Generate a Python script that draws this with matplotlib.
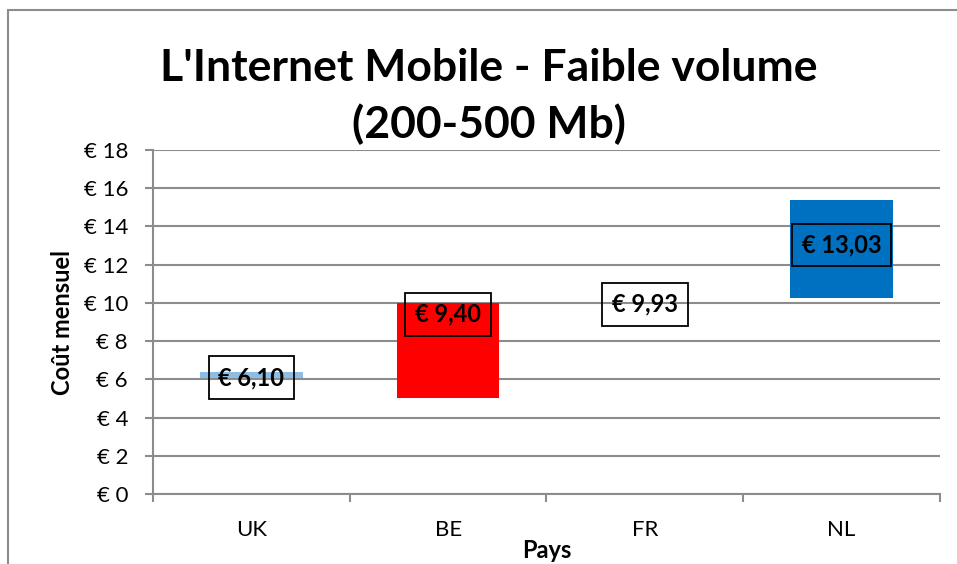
import matplotlib.pyplot as plt
from matplotlib.patches import Rectangle

plt.rcParams['font.family'] = ['Lato', 'DejaVu Sans']

# data
pays = ['UK', 'BE', 'FR', 'NL']
cout_min = [6.05, 5.00, 9.93, 10.25]
cout_max = [6.40, 10.00, 9.93, 15.40]
cout_moyen = [6.10, 9.40, 9.93, 13.03]
couleurs = ['#8DBDE4', '#FF0000', '#FFFFFF', '#0070C0']
yticks = list(range(0, 19, 2))

fig = plt.figure(figsize=(9.57, 5.64), dpi=100)
ax = fig.add_axes([0.16, 0.124, 0.822, 0.61])

x = list(range(len(pays)))
hauteurs = [hi - lo for lo, hi in zip(cout_min, cout_max)]
ax.bar(x, hauteurs, bottom=cout_min, width=0.52, color=couleurs, zorder=2)

for xi, v in zip(x, cout_moyen):
    txt = '€ ' + f'{v:.2f}'.replace('.', ',')
    ax.text(xi, v, txt, ha='center', va='center', fontsize=17, fontweight='bold',
            zorder=3, bbox=dict(boxstyle='square,pad=0.42', facecolor='none',
                                edgecolor='black', linewidth=1.3))

ax.set_xlim(-0.5, len(pays) - 0.5)
ax.set_ylim(0, 18)
ax.set_yticks(yticks)
ax.set_yticklabels([f'€ {t}' for t in yticks], fontsize=16)
ax.set_xticks(x)
ax.set_xticklabels(pays, fontsize=16)
ax.set_xticks([i - 0.5 for i in range(len(pays) + 1)], minor=True)
ax.tick_params(axis='x', which='major', length=0, pad=19)
ax.tick_params(axis='x', which='minor', length=6, color='#8c8c8c', width=1.5)
ax.tick_params(axis='y', length=6, color='#8c8c8c', width=1.5, pad=12)
ax.yaxis.grid(True, color='#8c8c8c', linewidth=1.5, zorder=0)
ax.set_axisbelow(True)
for s in ['top', 'right']:
    ax.spines[s].set_visible(False)
for s in ['left', 'bottom']:
    ax.spines[s].set_color('#8c8c8c')
    ax.spines[s].set_linewidth(1.5)

ax.set_ylabel('Coût mensuel', fontsize=17, fontweight='bold', labelpad=7)
ax.set_xlabel('Pays', fontsize=17, fontweight='bold', labelpad=-1)

fig.text(0.511, 0.880, "L'Internet Mobile - Faible volume", ha='center', va='center',
         fontsize=32, fontweight='bold')
fig.text(0.511, 0.780, '(200-500 Mb)', ha='center', va='center',
         fontsize=32, fontweight='bold')

fig.patches.append(Rectangle((0.008, -0.1), 1.2, 1.082, transform=fig.transFigure,
                             fill=False, edgecolor='#8c8c8c', linewidth=1.5))

fig.savefig('out.png', dpi=100)
